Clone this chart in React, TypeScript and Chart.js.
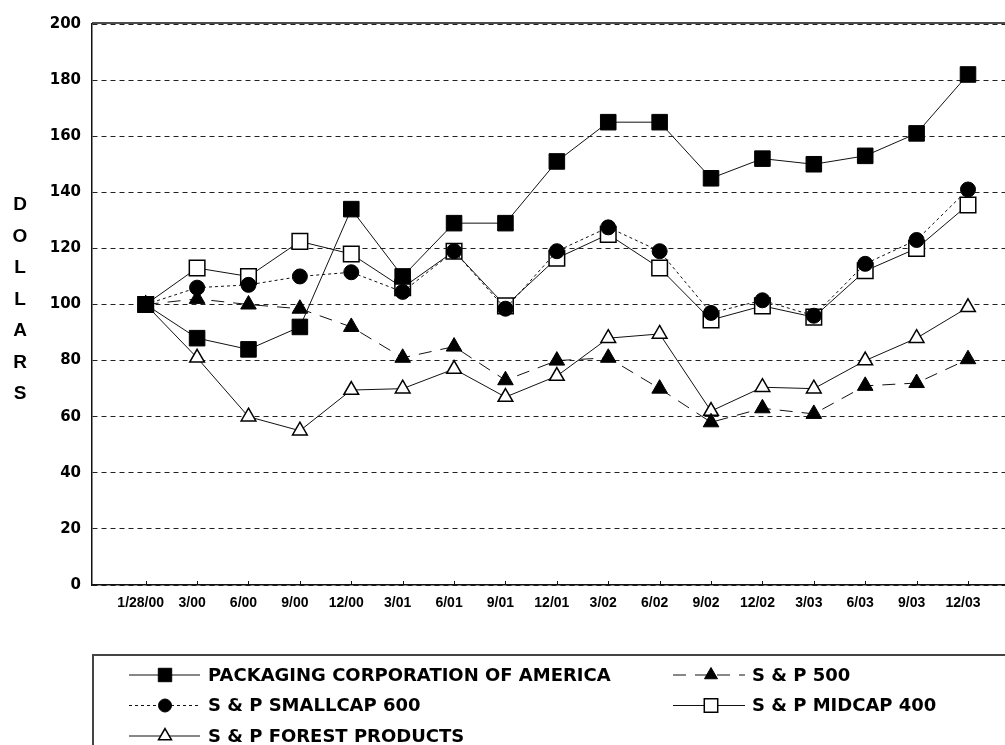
import React, { useEffect, useRef } from 'react';
import { Chart, registerables } from 'chart.js';
import { drawPoint } from 'chart.js/helpers';

Chart.register(...registerables);

// ---------- data ----------
const categories = ['1/28/00', '3/00', '6/00', '9/00', '12/00', '3/01', '6/01', '9/01', '12/01', '3/02', '6/02', '9/02', '12/02', '3/03', '6/03', '9/03', '12/03'];

const pcaValues = [100, 88, 84, 92, 134, 110, 129, 129, 151, 165, 165, 145, 152, 150, 153, 161, 182];
const sp500Values = [100, 102, 100, 98.5, 92, 81, 85, 73, 80, 81, 70, 58, 63, 61, 71, 72, 80.5];
const smallcapValues = [100, 106, 107, 110, 111.5, 104.5, 119, 98.5, 119, 127.5, 119, 97, 101.5, 96, 114.5, 123, 141];
const midcapValues = [100, 113, 110, 122.5, 118, 106, 119, 99.5, 116.5, 125, 113, 94.5, 99.5, 95.5, 112, 120, 135.5];
const forestValues = [100, 81, 60, 55, 69.5, 70, 77, 67, 74.5, 88, 89.5, 62, 70.5, 70, 80, 88, 99];

const seriesNames = [
  'PACKAGING CORPORATION OF AMERICA',
  'S & P 500',
  'S & P SMALLCAP 600',
  'S & P MIDCAP 400',
  'S & P FOREST PRODUCTS',
];

const yMin = 0;
const yMax = 200;
const yStep = 20;
const axisTitle = 'DOLLARS';

// legend layout: rows of dataset indexes
const legendRows = [[0, 1], [2, 3], [4]];

const INK = '#111';

const toPoints = (arr: number[]) => arr.map((y, x) => ({ x, y }));

const legendMarkerRadius: Record<string, number> = { rect: 9.5, circle: 6.5, triangle: 7.5 };

const decorPlugin = {
  id: 'decor',
  afterDraw(chart: any) {
    const { ctx, chartArea, scales } = chart;
    const xs = scales.x;
    ctx.save();
    // solid top frame line
    ctx.strokeStyle = INK;
    ctx.lineWidth = 1.5;
    ctx.setLineDash([]);
    ctx.beginPath();
    ctx.moveTo(chartArea.left, chartArea.top - 1);
    ctx.lineTo(chartArea.right, chartArea.top - 1);
    ctx.stroke();
    // small upward tick marks on x axis
    ctx.lineWidth = 1;
    ctx.beginPath();
    xs.ticks.forEach((t: any) => {
      const px = Math.round(xs.getPixelForValue(t.value)) + 0.5;
      ctx.moveTo(px, chartArea.bottom);
      ctx.lineTo(px, chartArea.bottom - 4);
    });
    ctx.stroke();

    // vertical stacked axis title
    ctx.fillStyle = '#000';
    ctx.font = 'bold 19px "Liberation Sans", Arial, sans-serif';
    ctx.textAlign = 'center';
    ctx.textBaseline = 'middle';
    axisTitle.split('').forEach((ch, i) => {
      ctx.fillText(ch, 20, 205 + i * 31.5);
    });

    // legend box
    ctx.strokeStyle = '#444';
    ctx.lineWidth = 2;
    ctx.strokeRect(93, 655, 930, 120);

    const rowY = [675, 705.5, 736];
    const colX = [{ l1: 129, l2: 200, m: 165, t: 208 }, { l1: 673, l2: 745, m: 711, t: 752 }];
    ctx.font = 'bold 18px "DejaVu Sans", sans-serif';
    ctx.textAlign = 'left';
    legendRows.forEach((row, ri) => {
      row.forEach((di, ci) => {
        const ds = chart.data.datasets[di];
        const c = colX[ci];
        const y = rowY[ri];
        ctx.save();
        ctx.strokeStyle = INK;
        ctx.lineWidth = 1.2;
        ctx.setLineDash(ds.borderDash || []);
        ctx.beginPath();
        ctx.moveTo(c.l1, y);
        ctx.lineTo(c.l2, y);
        ctx.stroke();
        ctx.setLineDash([]);
        ctx.fillStyle = ds.pointBackgroundColor;
        ctx.strokeStyle = ds.pointBorderColor;
        ctx.lineWidth = ds.pointBorderWidth;
        drawPoint(ctx, { pointStyle: ds.pointStyle, radius: legendMarkerRadius[ds.pointStyle], rotation: 0, borderWidth: ds.pointBorderWidth }, c.m, y);
        ctx.restore();
        ctx.fillStyle = '#000';
        ctx.fillText(ds.label, c.t, y + 1);
      });
    });
    ctx.restore();
  },
};

export default function App() {
  const canvasRef = useRef<HTMLCanvasElement | null>(null);

  useEffect(() => {
    if (!canvasRef.current) return;
    const chart = new Chart(canvasRef.current, {
      type: 'line',
      data: {
        datasets: [
          {
            label: seriesNames[0],
            data: toPoints(pcaValues),
            borderColor: INK,
            borderWidth: 1,
            pointStyle: 'rect',
            pointRadius: 11,
            pointBackgroundColor: '#000',
            pointBorderColor: '#000',
            pointBorderWidth: 1,
          },
          {
            label: seriesNames[1],
            data: toPoints(sp500Values),
            borderColor: INK,
            borderWidth: 1,
            borderDash: [13, 9],
            pointStyle: 'triangle',
            pointRadius: 9,
            pointBackgroundColor: '#000',
            pointBorderColor: '#000',
            pointBorderWidth: 1,
          },
          {
            label: seriesNames[2],
            data: toPoints(smallcapValues),
            borderColor: INK,
            borderWidth: 1,
            borderDash: [3, 3],
            pointStyle: 'circle',
            pointRadius: 7.5,
            pointBackgroundColor: '#000',
            pointBorderColor: '#000',
            pointBorderWidth: 1,
          },
          {
            label: seriesNames[3],
            data: toPoints(midcapValues),
            borderColor: INK,
            borderWidth: 1,
            pointStyle: 'rect',
            pointRadius: 11,
            pointBackgroundColor: '#fff',
            pointBorderColor: '#000',
            pointBorderWidth: 1.5,
          },
          {
            label: seriesNames[4],
            data: toPoints(forestValues),
            borderColor: INK,
            borderWidth: 1,
            pointStyle: 'triangle',
            pointRadius: 8.5,
            pointBackgroundColor: '#fff',
            pointBorderColor: '#000',
            pointBorderWidth: 1.5,
          },
        ] as any,
      },
      options: {
        animation: false,
        responsive: false,
        maintainAspectRatio: false,
        layout: { autoPadding: false, padding: { left: 0, right: 0, top: 24, bottom: 0 } },
        plugins: { legend: { display: false }, tooltip: { enabled: false } },
        elements: { line: { tension: 0 } },
        scales: {
          x: {
            type: 'linear',
            min: -1.045,
            max: 16.72,
            afterBuildTicks: (scale: any) => {
              scale.ticks = categories.map((_, i) => ({ value: i }));
            },
            afterFit: (scale: any) => {
              scale.height = 160;
              scale.paddingLeft = 0;
              scale.paddingRight = 0;
            },
            grid: { display: false, drawTicks: false },
            border: { display: true, color: INK, width: 1.5 },
            ticks: {
              autoSkip: false,
              maxRotation: 0,
              padding: 10,
              labelOffset: -5,
              color: '#000',
              font: { family: '"Liberation Sans", Arial, sans-serif', size: 14, weight: 'bold' },
              callback: (v: any) => categories[v as number] ?? '',
            },
          },
          y: {
            type: 'linear',
            min: yMin,
            max: yMax,
            afterFit: (scale: any) => {
              scale.width = 92;
            },
            grid: { display: true, color: '#222', lineWidth: 1, drawTicks: false },
            border: { display: true, color: INK, width: 1.5, dash: [5, 4] },
            ticks: {
              stepSize: yStep,
              padding: 11,
              color: '#000',
              font: { family: '"DejaVu Sans", sans-serif', size: 15, weight: 'bold' },
            },
          },
        },
      } as any,
      plugins: [decorPlugin],
    });
    return () => chart.destroy();
  }, []);

  return (
    <div style={{ position: 'absolute', left: 0, top: 0, width: 1005, height: 745, background: '#fff' }}>
      <canvas ref={canvasRef} width={1005} height={745} style={{ display: 'block' }} />
    </div>
  );
}
